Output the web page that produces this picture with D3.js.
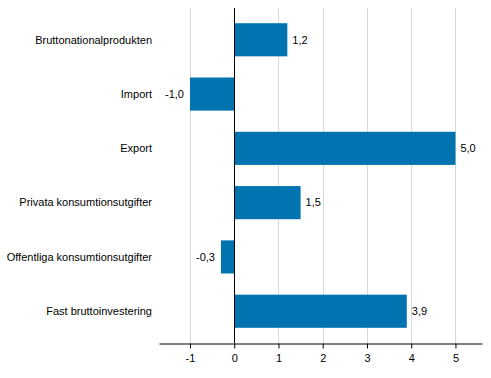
<!DOCTYPE html>
<html>
<head>
<meta charset="utf-8">
<script src="https://cdn.jsdelivr.net/npm/d3@7"></script>
<style>
  body { margin: 0; background: #fff; }
  text { font-family: "Liberation Sans", Arial, sans-serif; font-size: 11px; fill: #000; }
</style>
</head>
<body>
<svg id="chart"></svg>
<script>
// data
var categories = [
  "Bruttonationalprodukten",
  "Import",
  "Export",
  "Privata konsumtionsutgifter",
  "Offentliga konsumtionsutgifter",
  "Fast bruttoinvestering"
];
var values = [1.2, -1.0, 5.0, 1.5, -0.3, 3.9];
var xTicks = [-1, 0, 1, 2, 3, 4, 5];

var setup = {
  width: 491,
  height: 378,
  left: 159,
  right: 482,
  top: 8,
  bottom: 343
};

var svg = d3.select("#chart")
  .attr("width", setup.width)
  .attr("height", setup.height);

var x = d3.scaleLinear()
  .domain([-1.7, 5.6])
  .range([setup.left, setup.right]);

var y = d3.scaleBand()
  .domain(categories)
  .range([setup.top, setup.bottom])
  .paddingInner(0.39)
  .paddingOuter(0.28);

var fmt = (v) => v.toFixed(1).replace(".", ",");

// gridlines
svg.append("g")
  .selectAll("line")
  .data(xTicks.filter((t) => t !== 0))
  .join("line")
  .attr("x1", (d) => Math.round(x(d)) + 0.5)
  .attr("x2", (d) => Math.round(x(d)) + 0.5)
  .attr("y1", setup.top)
  .attr("y2", setup.bottom)
  .attr("stroke", "#d9d9d9")
  .attr("stroke-width", 1);

// bars
svg.append("g")
  .selectAll("rect")
  .data(values)
  .join("rect")
  .attr("x", (d) => x(Math.min(0, d)))
  .attr("width", (d) => Math.abs(x(d) - x(0)))
  .attr("y", (d, i) => y(categories[i]))
  .attr("height", y.bandwidth())
  .attr("fill", "#0073b0");

// zero line
svg.append("line")
  .attr("x1", Math.round(x(0)) + 0.5)
  .attr("x2", Math.round(x(0)) + 0.5)
  .attr("y1", setup.top)
  .attr("y2", setup.bottom)
  .attr("stroke", "#000")
  .attr("stroke-width", 1);

// value labels
svg.append("g")
  .selectAll("text")
  .data(values)
  .join("text")
  .attr("x", (d) => d >= 0 ? x(d) + 5 : x(d) - 6)
  .attr("y", (d, i) => y(categories[i]) + y.bandwidth() / 2)
  .attr("dy", "0.35em")
  .attr("text-anchor", (d) => d >= 0 ? "start" : "end")
  .text(fmt);

// category labels
svg.append("g")
  .selectAll("text")
  .data(categories)
  .join("text")
  .attr("x", 152)
  .attr("y", (d) => y(d) + y.bandwidth() / 2)
  .attr("dy", "0.35em")
  .attr("text-anchor", "end")
  .text((d) => d);

// x axis
var xAxis = d3.axisBottom(x)
  .tickValues(xTicks)
  .tickSize(5)
  .tickPadding(6)
  .tickSizeOuter(0)
  .tickFormat((d) => String(d));

var gx = svg.append("g")
  .attr("transform", "translate(0," + (setup.bottom + 0.5) + ")")
  .call(xAxis);
gx.select(".domain").attr("stroke", "#000");
gx.selectAll(".tick line").attr("stroke", "#000");
gx.selectAll(".tick text")
  .attr("font-family", "Liberation Sans, Arial, sans-serif")
  .attr("font-size", 11)
  .attr("fill", "#000");
</script>
</body>
</html>
